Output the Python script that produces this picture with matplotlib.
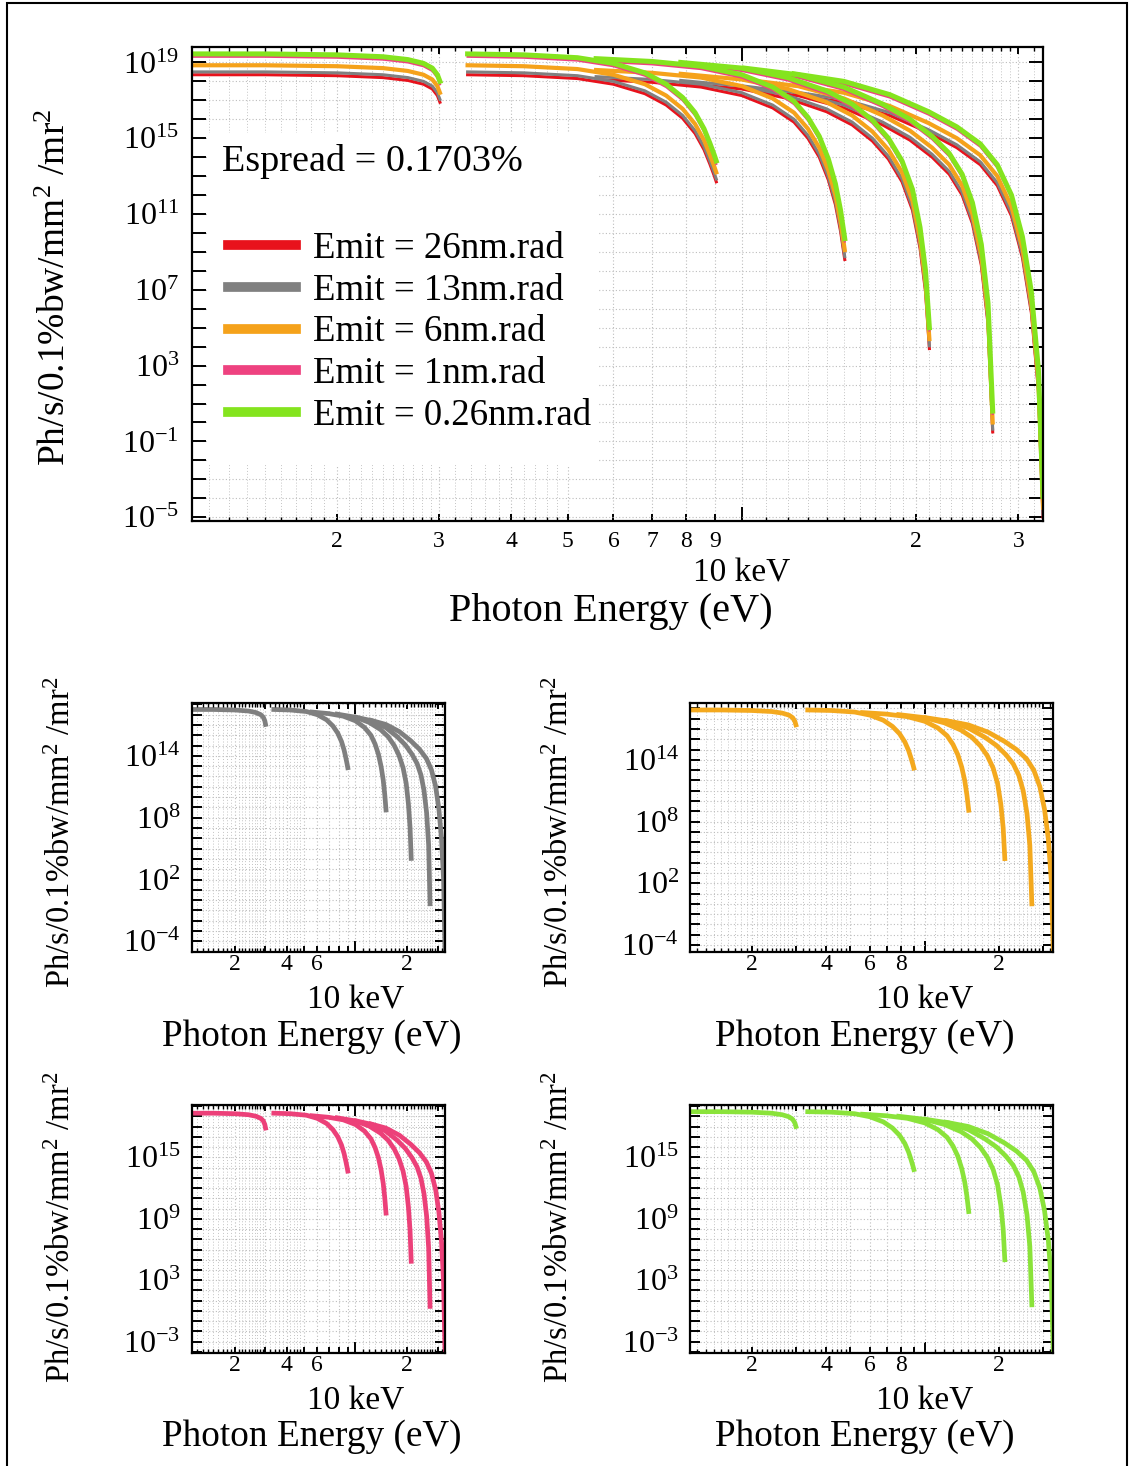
import numpy as np
import matplotlib
matplotlib.use('Agg')
import matplotlib.pyplot as plt
from matplotlib.ticker import FixedLocator, FixedFormatter, NullLocator
from matplotlib.patches import Rectangle

plt.rcParams['font.family'] = ['Liberation Serif', 'DejaVu Serif']
plt.rcParams['mathtext.fontset'] = 'custom'
plt.rcParams['mathtext.rm'] = 'Liberation Serif'
plt.rcParams['mathtext.it'] = 'Liberation Serif:italic'
plt.rcParams['axes.axisbelow'] = True

# Photon energy points of each undulator harmonic (keV): 1, 3, 5, 7, 9, 11
energy_h1 = [1.12, 1.5, 2.0, 2.4, 2.65, 2.82, 2.92, 2.98, 3.01]
energy_h3 = [3.36, 4.2, 5.2, 6.0, 6.8, 7.4, 7.9, 8.3, 8.6, 8.8, 8.95, 9.03]
energy_h5 = [5.6, 7.0, 8.5, 10.0, 11.3, 12.3, 13.0, 13.6, 14.1, 14.5, 14.8, 15.05]
energy_h7 = [7.84, 10.0, 12.0, 14.0, 15.5, 16.8, 17.9, 18.9, 19.7, 20.3, 20.75, 21.07]
energy_h9 = [10.1, 12.5, 15.0, 17.5, 19.5, 21.3, 22.8, 24.0, 25.0, 25.9, 26.6, 27.1]
energy_h11 = [12.3, 15.0, 18.0, 21.0, 23.5, 25.8, 27.6, 29.2, 30.5, 31.6, 32.5, 33.1]
harmonic_energy = [energy_h1, energy_h3, energy_h5, energy_h7, energy_h9, energy_h11]

# log10 brilliance (Ph/s/0.1%bw/mm^2/mr^2) per emittance, one list per harmonic
log_b_26nm = [
    [18.35, 18.35, 18.30, 18.20, 18.05, 17.85, 17.60, 17.25, 16.90],
    [18.35, 18.30, 18.15, 17.85, 17.35, 16.75, 16.05, 15.25, 14.40, 13.65, 13.05, 12.70],
    [18.10, 17.95, 17.70, 17.25, 16.60, 15.85, 15.00, 14.00, 12.80, 11.50, 10.10, 8.60],
    [17.90, 17.60, 17.10, 16.40, 15.70, 14.85, 13.90, 12.70, 11.20, 9.20, 6.90, 3.90],
    [17.60, 17.25, 16.60, 15.70, 14.90, 14.00, 13.10, 12.00, 10.50, 8.30, 5.20, -0.50],
    [17.30, 16.90, 16.20, 15.30, 14.50, 13.60, 12.50, 10.90, 8.70, 5.80, 1.70, -5.00],
]
log_b_13nm = [
    [18.50, 18.50, 18.45, 18.35, 18.20, 18.00, 17.75, 17.40, 17.05],
    [18.50, 18.45, 18.30, 18.00, 17.50, 16.90, 16.20, 15.40, 14.55, 13.80, 13.20, 12.85],
    [18.25, 18.10, 17.85, 17.40, 16.75, 16.00, 15.15, 14.15, 12.95, 11.65, 10.25, 8.75],
    [18.05, 17.75, 17.25, 16.55, 15.85, 15.00, 14.05, 12.85, 11.35, 9.35, 7.05, 4.05],
    [17.75, 17.40, 16.75, 15.85, 15.05, 14.15, 13.25, 12.15, 10.65, 8.45, 5.35, -0.35],
    [17.45, 17.05, 16.35, 15.45, 14.65, 13.75, 12.65, 11.05, 8.85, 5.95, 1.85, -4.85],
]
log_b_6nm = [
    [18.85, 18.85, 18.80, 18.70, 18.55, 18.35, 18.10, 17.75, 17.40],
    [18.85, 18.80, 18.65, 18.35, 17.85, 17.25, 16.55, 15.75, 14.90, 14.15, 13.55, 13.20],
    [18.60, 18.45, 18.20, 17.75, 17.10, 16.35, 15.50, 14.50, 13.30, 12.00, 10.60, 9.10],
    [18.40, 18.10, 17.60, 16.90, 16.20, 15.35, 14.40, 13.20, 11.70, 9.70, 7.40, 4.40],
    [18.10, 17.75, 17.10, 16.20, 15.40, 14.50, 13.60, 12.50, 11.00, 8.80, 5.70, 0.00],
    [17.80, 17.40, 16.70, 15.80, 15.00, 14.10, 13.00, 11.40, 9.20, 6.30, 2.20, -4.50],
]
log_b_1nm = [
    [19.30, 19.30, 19.25, 19.15, 19.00, 18.80, 18.55, 18.20, 17.85],
    [19.30, 19.25, 19.10, 18.80, 18.30, 17.70, 17.00, 16.20, 15.35, 14.60, 14.00, 13.65],
    [19.05, 18.90, 18.65, 18.20, 17.55, 16.80, 15.95, 14.95, 13.75, 12.45, 11.05, 9.55],
    [18.85, 18.55, 18.05, 17.35, 16.65, 15.80, 14.85, 13.65, 12.15, 10.15, 7.85, 4.85],
    [18.55, 18.20, 17.55, 16.65, 15.85, 14.95, 14.05, 12.95, 11.45, 9.25, 6.15, 0.45],
    [18.25, 17.85, 17.15, 16.25, 15.45, 14.55, 13.45, 11.85, 9.65, 6.75, 2.65, -4.05],
]
log_b_026nm = [
    [19.45, 19.45, 19.40, 19.30, 19.15, 18.95, 18.70, 18.35, 18.00],
    [19.45, 19.40, 19.25, 18.95, 18.45, 17.85, 17.15, 16.35, 15.50, 14.75, 14.15, 13.80],
    [19.20, 19.05, 18.80, 18.35, 17.70, 16.95, 16.10, 15.10, 13.90, 12.60, 11.20, 9.70],
    [19.00, 18.70, 18.20, 17.50, 16.80, 15.95, 15.00, 13.80, 12.30, 10.30, 8.00, 5.00],
    [18.70, 18.35, 17.70, 16.80, 16.00, 15.10, 14.20, 13.10, 11.60, 9.40, 6.30, 0.60],
    [18.40, 18.00, 17.30, 16.40, 15.60, 14.70, 13.60, 12.00, 9.80, 6.90, 2.80, -3.90],
]

emit_labels = ['Emit = 26nm.rad', 'Emit = 13nm.rad', 'Emit = 6nm.rad',
               'Emit = 1nm.rad', 'Emit = 0.26nm.rad']
emit_logs = [log_b_26nm, log_b_13nm, log_b_6nm, log_b_1nm, log_b_026nm]
emit_colors = ['#e8121c', '#808080', '#f5a21b', '#ee4280', '#84e41e']
emit_widths = [2.2, 2.2, 3.0, 1.6, 3.6]

W, H = 1129, 1466


def rect(left, top, right, bottom):
    return [left / W, 1 - bottom / H, (right - left) / W, (bottom - top) / H]


def draw_curves(ax, logs, color, lw, label=None):
    for i, (energy, vals) in enumerate(zip(harmonic_energy, logs)):
        ax.plot(np.array(energy) * 1000, 10.0 ** np.array(vals), color=color,
                lw=lw, label=label if i == 0 else None, zorder=2)


def style_axes(ax, ylim, label_exps, minor_labels, big):
    ax.set_xscale('log')
    ax.set_yscale('log')
    ax.set_xlim(1122, 33100)
    ax.set_ylim(10.0 ** ylim[0], 10.0 ** ylim[1])

    decades = np.arange(int(np.ceil(ylim[0])), int(np.floor(ylim[1])) + 1)
    ax.yaxis.set_major_locator(FixedLocator(10.0 ** decades))
    ax.yaxis.set_major_formatter(FixedFormatter(
        ['$10^{%d}$' % d if d in label_exps else '' for d in decades]))
    ax.yaxis.set_minor_locator(NullLocator())

    minor_pos = [2000, 3000, 4000, 5000, 6000, 7000, 8000, 9000, 20000, 30000]
    ax.xaxis.set_major_locator(FixedLocator([10000]))
    ax.xaxis.set_major_formatter(FixedFormatter(['10 keV']))
    ax.xaxis.set_minor_locator(FixedLocator(minor_pos))
    ax.xaxis.set_minor_formatter(FixedFormatter(minor_labels))

    ylen = 10 if big else 7
    ax.tick_params(which='both', direction='in', top=True, right=True, width=1.4)
    ax.tick_params(axis='y', which='major', length=ylen, labelsize=23,
                   pad=9 if big else 8)
    ax.tick_params(axis='x', which='major', length=10 if big else 8,
                   labelsize=24, pad=27 if big else 24)
    ax.tick_params(axis='x', which='minor', length=5 if big else 4,
                   labelsize=17, pad=7 if big else 2)
    for s in ax.spines.values():
        s.set_linewidth(1.6)

    # finer energy subdivisions: short ticks and dotted grid
    fine = []
    for dec in (1000, 10000):
        for u in list(np.arange(1.1, 2.95, 0.1)) + [3.2, 3.4, 3.6, 3.8, 4.2, 4.4, 4.6, 4.8]:
            if abs(u - round(u)) > 1e-6:
                fine.append(u * dec)
    fine = [f for f in fine if 1122 < f < 33100]
    xt = ax.get_xaxis_transform()
    flen = 4.0 / (ax.get_position().height * H)
    ax.vlines(fine, 0, flen, transform=xt, colors='k', lw=1.0, zorder=3)
    ax.vlines(fine, 1 - flen, 1, transform=xt, colors='k', lw=1.0, zorder=3)
    ax.vlines(fine, 0, 1, transform=xt, colors='#c4c4c4', lw=0.7,
              linestyles=(0, (1, 2)), zorder=0.4)
    ax.grid(True, which='both', axis='x', color='#bdbdbd', lw=0.8, ls=(0, (1, 2)))
    ax.grid(True, which='major', axis='y', color='#bdbdbd', lw=0.8, ls=(0, (1, 2)))


fig = plt.figure(figsize=(W / 100, H / 100), dpi=100)
fig.add_artist(Rectangle((7 / W, -0.01), 1120 / W, 1.01 - 3 / H,
                         transform=fig.transFigure, fill=False, ec='k', lw=1.5))

ylabel = 'Ph/s/0.1%bw/mm$^2$ /mr$^2$'

# Main plot with all emittances
ax = fig.add_axes(rect(191.7, 46.7, 1043, 521))
for logs, color, lw, lab in zip(emit_logs, emit_colors, emit_widths, emit_labels):
    draw_curves(ax, logs, color, lw, lab)
style_axes(ax, (-5.2, 19.83), {19, 15, 11, 7, 3, -1, -5},
           ['2', '3', '4', '5', '6', '7', '8', '9', '2', '3'], True)
ax.add_patch(Rectangle((0.02, 0.118), 0.456, 0.70, transform=ax.transAxes,
                       fc='white', ec='none', zorder=1))
ax.text(0.0356, 0.757, 'Espread = 0.1703%', transform=ax.transAxes,
        fontsize=27.5, ha='left', va='center', zorder=3)
leg = ax.legend(loc='upper left', bbox_to_anchor=(0.0426, 0.611), frameon=False,
                fontsize=26.5, handlelength=1.85, handletextpad=0.45,
                labelspacing=0.2, borderpad=0, borderaxespad=0)
for h in leg.get_lines():
    h.set_linewidth(7)
fig.text(56 / W, 1 - 287 / H, ylabel, rotation=90, fontsize=27,
         ha='center', va='center')
fig.text(611 / W, 1 - 612 / H, 'Photon Energy (eV)', fontsize=29,
         ha='center', va='center')

# Single-emittance panels
panels = [
    (rect(191.7, 703.3, 445, 951.7), log_b_13nm, '#7f7f7f', (-5.0, 19.1),
     {14, 8, 2, -4}, ['2', '', '4', '', '6', '', '', '', '2', ''], (62, 832), (312, 1037)),
    (rect(690, 703.3, 1053.3, 951.7), log_b_6nm, '#f4a91e', (-4.65, 19.5),
     {14, 8, 2, -4}, ['2', '', '4', '', '6', '', '8', '', '2', ''], (560, 832), (865, 1037)),
    (rect(191.7, 1105, 445, 1352.7), log_b_1nm, '#ec4079', (-4.07, 20.1),
     {15, 9, 3, -3}, ['2', '', '4', '', '6', '', '', '', '2', ''], (62, 1227), (312, 1437)),
    (rect(690, 1105, 1053.3, 1352.7), log_b_026nm, '#8ae33a', (-4.07, 20.1),
     {15, 9, 3, -3}, ['2', '', '4', '', '6', '', '8', '', '2', ''], (560, 1227), (865, 1437)),
]
for pos, logs, color, ylim, exps, mlabels, ylab_xy, xlab_xy in panels:
    a = fig.add_axes(pos)
    draw_curves(a, logs, color, 3.4)
    style_axes(a, ylim, exps, mlabels, False)
    fig.text(ylab_xy[0] / W, 1 - ylab_xy[1] / H, ylabel, rotation=90,
             fontsize=23.5, ha='center', va='center')
    fig.text(xlab_xy[0] / W, 1 - xlab_xy[1] / H, 'Photon Energy (eV)',
             fontsize=26.8, ha='center', va='center')

fig.savefig('out.png', dpi=100)
